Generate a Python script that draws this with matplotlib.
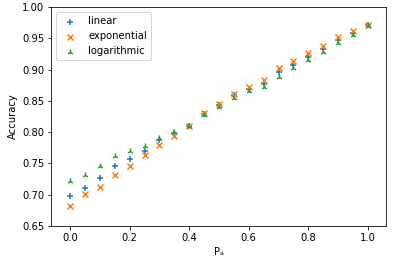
import numpy as np
import matplotlib
matplotlib.use("Agg")
import matplotlib.pyplot as plt

# P_a values and accuracies
pa = [0.0, 0.05, 0.1, 0.15, 0.2, 0.25, 0.3, 0.35, 0.4, 0.45, 0.5,
      0.55, 0.6, 0.65, 0.7, 0.75, 0.8, 0.85, 0.9, 0.95, 1.0]
acc_linear = [0.698, 0.711, 0.726, 0.745, 0.757, 0.769, 0.787, 0.799, 0.810, 0.829, 0.843,
              0.859, 0.869, 0.877, 0.896, 0.907, 0.921, 0.933, 0.948, 0.958, 0.971]
acc_exponential = [0.682, 0.701, 0.712, 0.732, 0.745, 0.763, 0.780, 0.794, 0.810, 0.831, 0.845,
                   0.861, 0.872, 0.884, 0.903, 0.914, 0.927, 0.938, 0.952, 0.962, 0.972]
acc_logarithmic = [0.722, 0.732, 0.745, 0.761, 0.769, 0.778, 0.791, 0.800, 0.810, 0.827, 0.840,
                   0.854, 0.866, 0.872, 0.888, 0.902, 0.915, 0.929, 0.943, 0.955, 0.970]

fig = plt.figure(figsize=(393 / 72, 258 / 72), dpi=72)
ax = fig.add_axes([0.131, 0.125, 0.851, 0.847])

ax.scatter(pa, acc_linear, marker="+", label="linear")
ax.scatter(pa, acc_exponential, marker="x", label="exponential")
ax.scatter(pa, acc_logarithmic, marker="2", label="logarithmic")

ax.set_xlim(-0.063, 1.061)
ax.set_ylim(0.65, 1.0)
ax.set_xticks([0.0, 0.2, 0.4, 0.6, 0.8, 1.0])
ax.set_xlabel("Pₐ")
ax.set_ylabel("Accuracy")
ax.legend(loc="upper left")

fig.savefig("out.png", dpi=72)
